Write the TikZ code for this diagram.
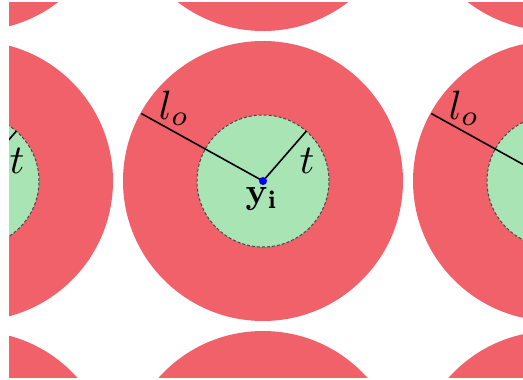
\documentclass[tikz,border=0pt]{standalone}
\usepackage{amsmath}
\definecolor{ringred}{RGB}{241,97,105}
\definecolor{coregreen}{RGB}{169,228,180}
\definecolor{dashgray}{RGB}{70,70,70}
\begin{document}
\begin{tikzpicture}[x=1pt,y=-1pt,
  outer/.style={fill=ringred},
  inner/.style={fill=coregreen, draw=dashgray, dash pattern=on 3pt off 2pt, line width=1pt},
  ray/.style={draw=black, line width=1.6pt},
  lbl/.style={scale=4.1, inner sep=0pt},
  ylbl/.style={scale=3.6, inner sep=0pt},
  centredot/.style={circle, fill=blue, inner sep=0pt, minimum size=8pt}]
\useasboundingbox (0,0) rectangle (523,380);
\clip (9,2) rectangle (523,377);
\foreach \i in {-1,0,1} {
  \foreach \j in {-1,0,1} {
    \begin{scope}[shift={(263+290*\i,181+290*\j)}]
      \coordinate (c\i\j) at (0,0);
      \fill[outer] (c\i\j) circle (140pt);
      \filldraw[inner] (c\i\j) circle (66pt);
      \coordinate (lend\i\j) at (-151:139);
      \coordinate (tend\i\j) at (-49:66);
      \draw[ray] (c\i\j) -- (lend\i\j);
      \draw[ray] (c\i\j) -- (tend\i\j);
      \node[centredot] (dot\i\j) at (c\i\j) {};
      \node[lbl] (lo\i\j) at (-89,-73) {$l_o$};
      \node[lbl] (t\i\j) at (44,-20) {$t$};
      \node[ylbl] (y\i\j) at (-1,18) {$\mathbf{y}_{\mathbf{i}}$};
    \end{scope}
  }
}
\end{tikzpicture}
\end{document}
